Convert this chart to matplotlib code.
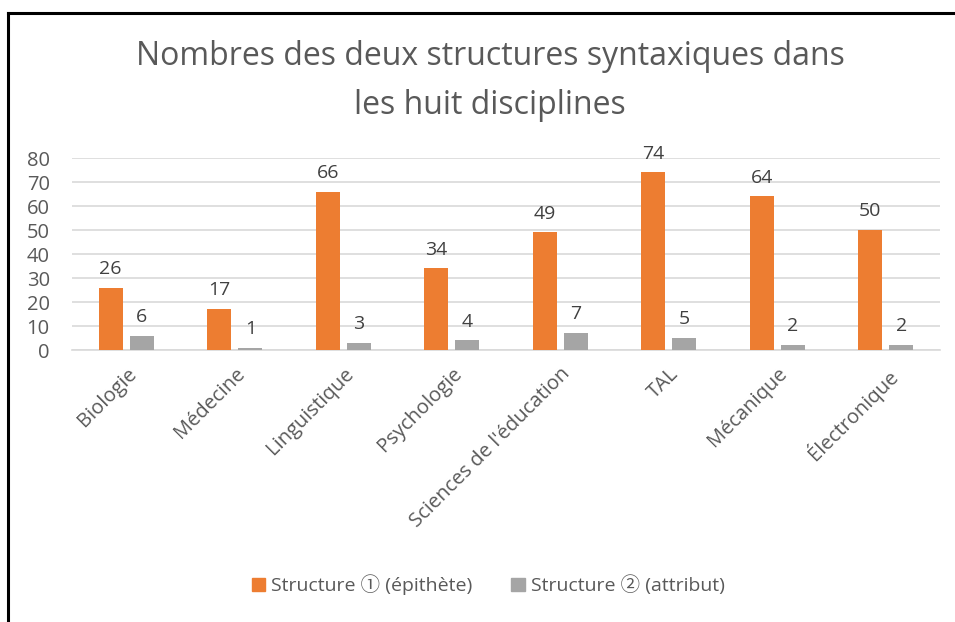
import matplotlib
matplotlib.use("Agg")
import matplotlib.pyplot as plt
import numpy as np
from matplotlib.lines import Line2D

plt.rcParams['font.family'] = ['Open Sans', 'Noto Sans CJK SC', 'DejaVu Sans']

categories = ["Biologie", "Médecine", "Linguistique", "Psychologie",
              "Sciences de l'éducation", "TAL", "Mécanique", "Électronique"]
structure1 = [26, 17, 66, 34, 49, 74, 64, 50]
structure2 = [6, 1, 3, 4, 7, 5, 2, 2]
series_names = ["Structure ① (épithète)", "Structure ② (attribut)"]
title = "Nombres des deux structures syntaxiques dans\nles huit disciplines"
yticks = [0, 10, 20, 30, 40, 50, 60, 70, 80]

W, H = 955, 622
fig = plt.figure(figsize=(W/100, H/100), dpi=100)
ax = fig.add_axes([72/W, 1-350/H, 868/W, 192/H])

x = np.arange(len(categories))
bw = 0.22
off = 0.143
orange = "#ED7D31"
gray = "#A5A5A5"
txt = "#595959"

b1 = ax.bar(x - off, structure1, bw, color=orange, zorder=3)
b2 = ax.bar(x + off, structure2, bw, color=gray, zorder=3)
for bars, vals in ((b1, structure1), (b2, structure2)):
    for r, v in zip(bars, vals):
        ax.annotate(str(v), (r.get_x() + r.get_width()/2, v), xytext=(0, 7),
                    textcoords="offset points", ha="center", va="bottom",
                    fontsize=14, color="#404040")

ax.set_xlim(-0.5, len(categories) - 0.5)
ax.set_ylim(0, 80)
ax.set_yticks(yticks)
ax.set_yticklabels([str(t) for t in yticks], fontsize=14.5, color=txt)
ax.yaxis.grid(True, color="#D9D9D9", linewidth=1.2, zorder=0)
ax.set_axisbelow(True)
for s in ("top", "right", "left"):
    ax.spines[s].set_visible(False)
ax.spines["bottom"].set_color("#D9D9D9")
ax.spines["bottom"].set_linewidth(1.2)
ax.tick_params(axis="both", length=0)
ax.tick_params(axis="y", pad=16)
ax.set_xticks(x)
ax.set_xticklabels(categories, rotation=45, ha="right", rotation_mode="anchor",
                   fontsize=14.5, color=txt)
ax.tick_params(axis="x", pad=10)

fig.text(490/W, 1-81/H, title, ha="center", va="center", fontsize=23,
         color=txt, linespacing=1.62)

handles = [plt.Rectangle((0, 0), 1, 1, color=orange),
           plt.Rectangle((0, 0), 1, 1, color=gray)]
fig.legend(handles, series_names, loc="center", bbox_to_anchor=(488/W, 1-585/H),
           ncol=2, frameon=False, fontsize=14, handlelength=0.7, handleheight=0.7,
           handletextpad=0.3, columnspacing=2.0, labelcolor=txt)

# outer border
fig.add_artist(Line2D([8/W, 8/W], [0, 1-13/H], color="black", linewidth=2.2,
                      transform=fig.transFigure))
fig.add_artist(Line2D([8/W, 1], [1-13/H, 1-13/H], color="black", linewidth=2.2,
                      transform=fig.transFigure))

fig.savefig("out.png", dpi=100)
